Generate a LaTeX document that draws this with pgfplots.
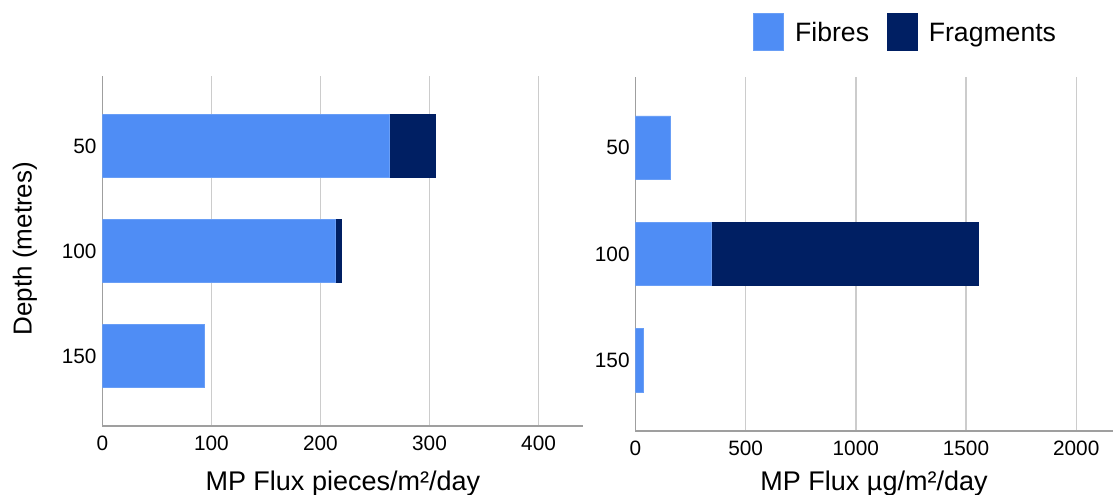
\documentclass[border=0pt]{standalone}
\usepackage{fontspec}
\setmainfont{Liberation Sans}
\usepackage{pgfplots}
\pgfplotsset{compat=1.18}
\definecolor{fibres}{HTML}{4F8DF5}
\definecolor{fragments}{HTML}{001F63}
\pgfplotsset{
  mybar/.style={
    scale only axis,
    xbar stacked,
    bar width=0.6,
    ymin=0.3333, ymax=3.6667,
    xmin=0,
    ytick={1,2,3},
    yticklabels={150,100,50},
    axis x line=bottom, axis y line=left,
    axis line style={-, draw=gray!75, line width=0.7pt},
    xmajorgrids,
    major grid style={draw=gray!40, line width=0.7pt},
    major tick length=0pt,
    /pgf/number format/assume math mode=true,
    /pgf/number format/1000 sep={},
    tick label style={font=\fontsize{10.4}{12}\selectfont},
    xticklabel style={inner sep=0pt, anchor=north, yshift=-5pt},
    yticklabel style={inner sep=0pt, anchor=east, xshift=-2.7pt},
  }
}
\begin{document}
\begin{tikzpicture}
\path[use as bounding box] (0,0) rectangle (556.5pt,247pt);
% left panel
\begin{axis}[mybar,
  at={(51.15pt,34pt)}, anchor=south west,
  width=240.5pt, height=175pt,
  xmax=441, xtick={0,100,200,300,400}]
\addplot[fill=fibres, draw=fibres!85!white, line width=0.4pt] coordinates {(263.6,3) (213.4,2) (93.7,1)};
\addplot[fill=fragments, draw=fragments, line width=0.4pt] coordinates {(42.1,3) (5.6,2) (0,1)};
\end{axis}
% right panel
\begin{axis}[mybar,
  at={(317.7pt,31.5pt)}, anchor=south west,
  width=238.8pt, height=177pt,
  xmax=2167, xtick={0,500,1000,1500,2000},
  legend columns=2,
  legend style={at={(axis description cs:0.247,1.181)}, anchor=north west,
    draw=none, fill=none, inner sep=0pt, outer sep=0pt,
    font=\fontsize{13.3}{15}\selectfont,
    nodes={inner sep=0pt},
    /tikz/every even column/.append style={column sep=9pt},
    /tikz/every odd column/.append style={column sep=5.5pt}},
  legend image code/.code={\fill[#1] (0pt,-8.4pt) rectangle (15pt,10.1pt);}]
\addplot[fill=fibres, draw=fibres!85!white, line width=0.4pt] coordinates {(160,3) (344,2) (34,1)};
\addlegendentry{Fibres}
\addplot[fill=fragments, draw=fragments, line width=0.4pt] coordinates {(0,3) (1213,2) (0,1)};
\addlegendentry{Fragments}
\end{axis}
\node[rotate=90, font=\fontsize{13}{16}\selectfont] at (12.5pt,122.7pt) {Depth (metres)};
\node[anchor=base, font=\fontsize{13.5}{16}\selectfont] at (171.4pt,2pt) {MP Flux pieces/m²/day};
\node[anchor=base, font=\fontsize{13.5}{16}\selectfont] at (437pt,2pt) {MP Flux µg/m²/day};
\end{tikzpicture}
\end{document}
